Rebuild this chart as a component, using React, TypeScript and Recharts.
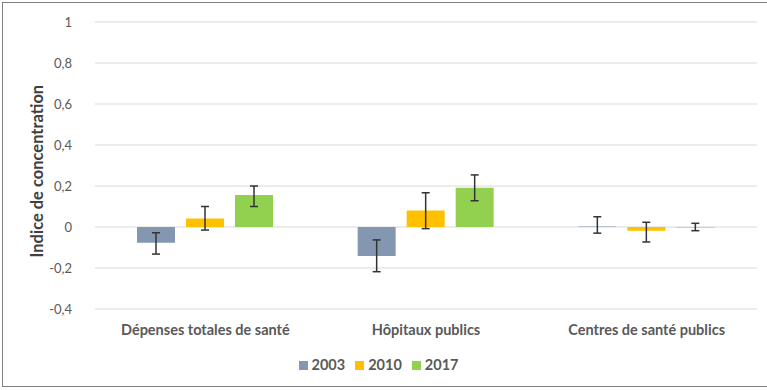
import React from "react";
import { BarChart, Bar, XAxis, YAxis, CartesianGrid, Legend, ErrorBar } from "recharts";

const categories = ["Dépenses totales de santé", "Hôpitaux publics", "Centres de santé publics"];
const years = ["2003", "2010", "2017"];
const colors = ["#8497B0", "#FFC000", "#92D050"];

// bar values
const v2003 = [-0.077, -0.141, 0.003];
const v2010 = [0.042, 0.08, -0.018];
const v2017 = [0.156, 0.192, -0.003];

// confidence interval bounds (low / high)
const lo2003 = [-0.132, -0.218, -0.03];
const hi2003 = [-0.028, -0.063, 0.05];
const lo2010 = [-0.015, -0.008, -0.073];
const hi2010 = [0.1, 0.167, 0.023];
const lo2017 = [0.1, 0.128, -0.018];
const hi2017 = [0.2, 0.254, 0.018];

const yTicks = [-0.4, -0.2, 0, 0.2, 0.4, 0.6, 0.8, 1];

const series = [
  { v: v2003, lo: lo2003, hi: hi2003 },
  { v: v2010, lo: lo2010, hi: hi2010 },
  { v: v2017, lo: lo2017, hi: hi2017 },
];

const data = categories.map((name, i) => {
  const row: Record<string, any> = { name };
  series.forEach((s, k) => {
    row[years[k]] = s.v[i];
    row["err" + years[k]] = [s.v[i] - s.lo[i], s.hi[i] - s.v[i]];
  });
  return row;
});

const font = "Lato, 'Open Sans', sans-serif";

export default function App() {
  return (
    <div
      style={{
        position: "absolute",
        left: 0,
        top: 0,
        width: 767,
        height: 390,
        background: "#fff",
        fontFamily: font,
      }}
    >
      <div
        style={{
          position: "absolute",
          left: 2,
          top: 2,
          width: 770,
          height: 385,
          border: "1px solid #7f7f7f",
          boxSizing: "border-box",
        }}
      />
      <BarChart
        width={767}
        height={390}
        data={data}
        margin={{ top: 22, right: 10, left: 0, bottom: 51 }}
        barSize={38}
        barGap={11}
      >
        <CartesianGrid vertical={false} stroke="#d9d9d9" />
        <XAxis
          dataKey="name"
          axisLine={false}
          tickLine={false}
          height={30}
          tickMargin={10}
          tick={{ fill: "#595959", fontSize: 14.5, fontWeight: 700, fontFamily: font }}
        />
        <YAxis
          domain={[-0.4, 1]}
          ticks={yTicks}
          interval={0}
          width={95}
          axisLine={false}
          tickLine={false}
          tickMargin={17}
          tickFormatter={(t: number) => String(Math.round(t * 10) / 10).replace(".", ",")}
          tick={{ fill: "#595959", fontSize: 13, fontFamily: font }}
          label={{
            value: "Indice de concentration",
            angle: -90,
            position: "insideLeft",
            dx: 32,
            dy: 92,
            style: { fill: "#404040", fontSize: 16.5, fontWeight: 700, fontFamily: font },
          }}
        />
        <Legend
          verticalAlign="middle"
          align="center"
          iconType="square"
          iconSize={9}
          wrapperStyle={{ top: 354, left: 0, width: 767 }}
          formatter={(value: string) => (
            <span style={{ color: "#595959", fontSize: 14.5, fontWeight: 700, fontFamily: font }}>{value}</span>
          )}
        />
        {years.map((y, k) => (
          <Bar key={y} dataKey={y} fill={colors[k]} isAnimationActive={false}>
            <ErrorBar dataKey={"err" + y} width={4} stroke="#333333" strokeWidth={1.5} />
          </Bar>
        ))}
      </BarChart>
    </div>
  );
}
